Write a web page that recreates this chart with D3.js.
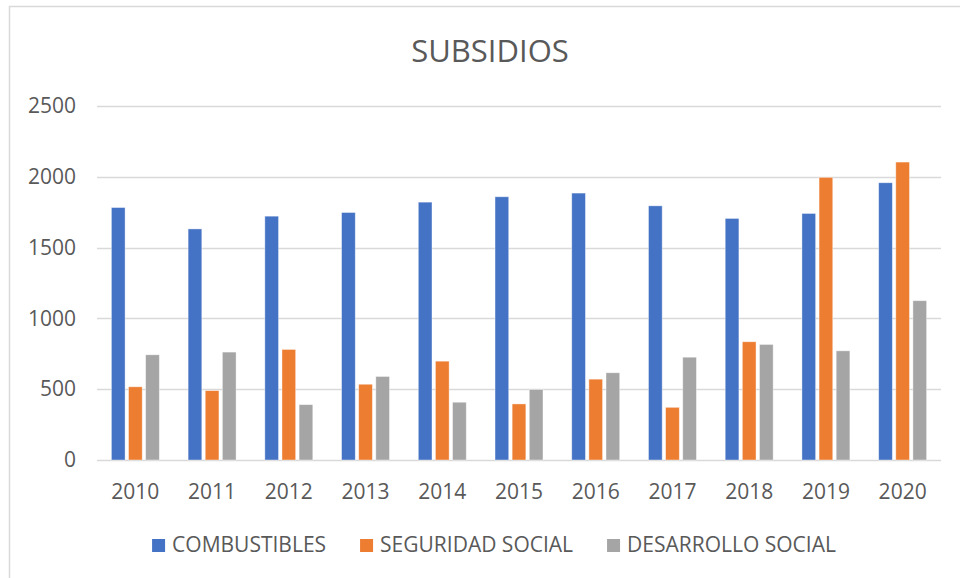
<!DOCTYPE html>
<html>
<head>
<meta charset="utf-8">
<script src="https://cdn.jsdelivr.net/npm/d3@7"></script>
<style>
  body { margin: 0; background: #fff; }
  text { font-family: "Open Sans", "Noto Sans", sans-serif; fill: #595959; }
</style>
</head>
<body>
<div id="chart"></div>
<script>
// Data
var years = ["2010", "2011", "2012", "2013", "2014", "2015", "2016", "2017", "2018", "2019", "2020"];
var seriesNames = ["COMBUSTIBLES", "SEGURIDAD SOCIAL", "DESARROLLO SOCIAL"];
var combustibles = [1783, 1632, 1722, 1748, 1821, 1859, 1885, 1795, 1706, 1741, 1958];
var seguridadSocial = [517, 490, 781, 535, 698, 396, 571, 372, 835, 1996, 2104];
var desarrolloSocial = [743, 762, 391, 590, 408, 498, 616, 726, 816, 771, 1125];
var yTicks = [0, 500, 1000, 1500, 2000, 2500];
var colors = ["#4472C4", "#ED7D31", "#A5A5A5"];

var seriesValues = [combustibles, seguridadSocial, desarrolloSocial];

// Spacing
var W = 960, H = 578;
var margin = {top: 106, right: 19, bottom: 118, left: 97};
var width = W - margin.left - margin.right;
var height = H - margin.top - margin.bottom;

var svg = d3.select("#chart")
  .append("svg")
  .attr("width", W)
  .attr("height", H);

// Chart frame
svg.append("rect")
  .attr("x", 9.5)
  .attr("y", 6.5)
  .attr("width", 960)
  .attr("height", 600)
  .attr("fill", "none")
  .attr("stroke", "#d9d9d9")
  .attr("stroke-width", 1.5);

var g = svg.append("g")
  .attr("transform", "translate(" + margin.left + "," + margin.top + ")");

// Scales
var x0 = d3.scaleBand()
  .domain(years)
  .range([0, width])
  .paddingInner(0.375)
  .paddingOuter(0.1875);

var x1 = d3.scaleBand()
  .domain(seriesNames)
  .range([0, x0.bandwidth()])
  .paddingInner(0.2);

var y = d3.scaleLinear()
  .domain([0, 2500])
  .range([height, 0]);

// Gridlines
g.selectAll(".grid")
  .data(yTicks)
  .enter()
  .append("line")
  .attr("class", "grid")
  .attr("x1", 0)
  .attr("x2", width)
  .attr("y1", function(d) { return Math.round(y(d)) + 0.5; })
  .attr("y2", function(d) { return Math.round(y(d)) + 0.5; })
  .attr("stroke", "#d9d9d9")
  .attr("stroke-width", 1.3);

// Y axis labels
var yAxis = g.append("g")
  .call(d3.axisLeft(y).tickValues(yTicks).tickFormat(d3.format("d")).tickSize(0).tickPadding(21));
yAxis.select(".domain").remove();
yAxis.selectAll("text")
  .style("font-size", "21px")
  .attr("fill", "#595959");

// X axis labels
var xAxis = g.append("g")
  .attr("transform", "translate(0," + height + ")")
  .call(d3.axisBottom(x0).tickSize(0).tickPadding(24));
xAxis.select(".domain").remove();
xAxis.selectAll("text")
  .style("font-size", "21px")
  .attr("fill", "#595959");

// Bars
var rows = years.map(function(yr, i) {
  return {year: yr, values: seriesNames.map(function(s, j) {
    return {name: s, value: seriesValues[j][i], color: colors[j]};
  })};
});

var groups = g.selectAll(".yearGroup")
  .data(rows)
  .enter()
  .append("g")
  .attr("class", "yearGroup")
  .attr("transform", function(d) { return "translate(" + x0(d.year) + ",0)"; });

groups.selectAll("rect")
  .data(function(d) { return d.values; })
  .enter()
  .append("rect")
  .attr("x", function(d) { return x1(d.name); })
  .attr("y", function(d) { return y(d.value); })
  .attr("width", x1.bandwidth())
  .attr("height", function(d) { return height - y(d.value); })
  .attr("fill", function(d) { return d.color; })
  .attr("stroke", "#fff")
  .attr("stroke-opacity", 0.5)
  .attr("stroke-width", 0.8);

// Title
svg.append("text")
  .attr("x", 490)
  .attr("y", 62)
  .attr("text-anchor", "middle")
  .style("font-size", "31px")
  .text("SUBSIDIOS");

// Legend, laid out from measured text widths and centred
var legend = svg.append("g");
var items = legend.selectAll(".legendItem")
  .data(seriesNames)
  .enter()
  .append("g")
  .attr("class", "legendItem");

items.append("rect")
  .attr("width", 13)
  .attr("height", 13)
  .attr("y", -13)
  .attr("fill", function(d, i) { return colors[i]; });

items.append("text")
  .attr("x", 20)
  .attr("y", 0)
  .style("font-size", "21px")
  .text(function(d) { return d; });

var offsets = [], xpos = 0;
items.each(function(d, i) {
  offsets.push(xpos);
  xpos += 20 + d3.select(this).select("text").node().getComputedTextLength() + 34;
});
var legendWidth = xpos - 34;
items.attr("transform", function(d, i) { return "translate(" + offsets[i] + ",0)"; });
legend.attr("transform", "translate(" + (494 - legendWidth / 2) + ",552)");
</script>
</body>
</html>
